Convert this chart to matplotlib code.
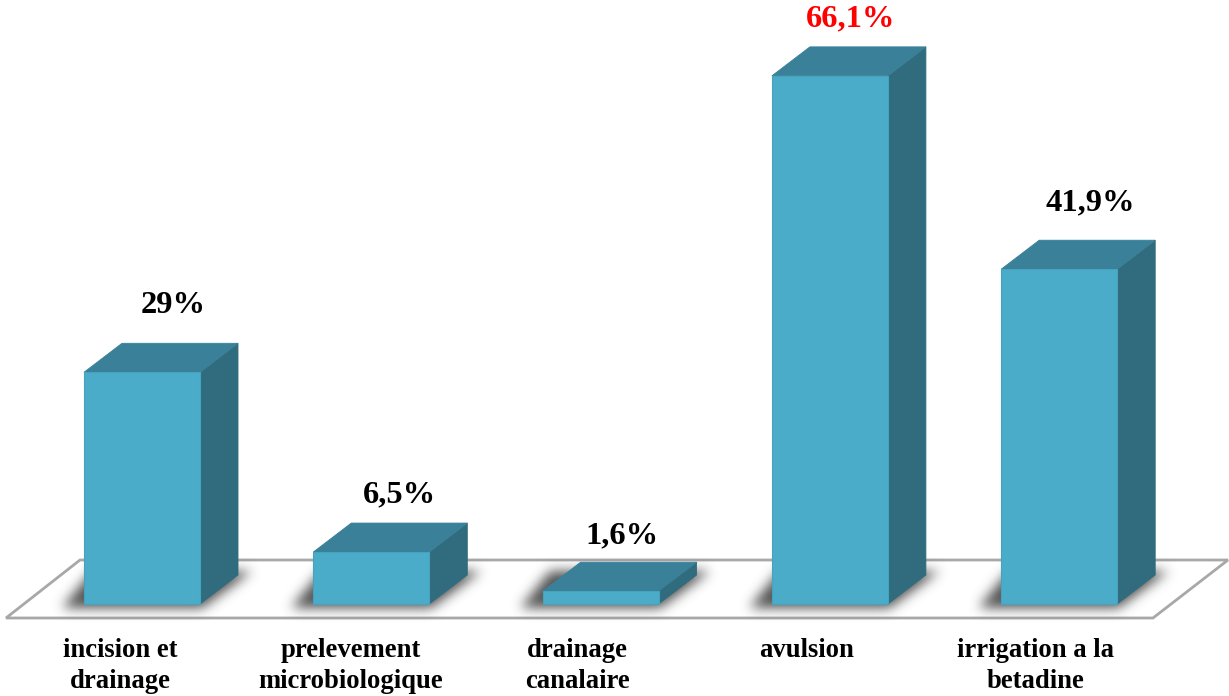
import matplotlib
matplotlib.use("Agg")
import matplotlib.pyplot as plt
from matplotlib.patches import Polygon
from matplotlib.path import Path
import numpy as np

categories = ["incision et\ndrainage", "prelevement\nmicrobiologique", "drainage\ncanalaire",
              "avulsion", "irrigation a la\nbetadine"]
values = [29.0, 6.5, 1.6, 66.1, 41.9]
value_labels = ["29%", "6,5%", "1,6%", "66,1%", "41,9%"]
label_colors = ["black", "black", "black", "red", "black"]

# Label placement relative to each bar, in pixels
label_dx = [31, 28, 21, 21, 31]
label_dy = [67, 57, 55, 57, 66]
cat_dx = [-22, -21, -23, -23, -24]

W, H = 1229, 696
FACE, TOP, SIDE = "#4aacc8", "#398098", "#306c7e"
FLOOR_EDGE = "#a8a8a8"

fig = plt.figure(figsize=(W / 100, H / 100), dpi=100)
ax = fig.add_axes([0, 0, 1, 1])

# Scales: 229.3 px per category, 7.99 px per percentage point, baseline at y=604 px
PX_X, PX_Y = 229.3, 7.99
X0, Y0 = 142.0, 604.0
xlim = (-X0 / PX_X, (W - X0) / PX_X)
ylim = (-(H - Y0) / PX_Y, Y0 / PX_Y)
ax.set_xlim(*xlim)
ax.set_ylim(*ylim)
ax.axis("off")

bar_w = 116 / PX_X
dep_x, dep_y = 38 / PX_X, 29 / PX_Y


def px(dx, dy):
    """Convert a pixel offset (y pointing up) to data units."""
    return dx / PX_X, dy / PX_Y


def gaussian_blur(img, sigma):
    """Separable Gaussian blur of a 2-D array."""
    r = int(3 * sigma)
    k = np.exp(-0.5 * (np.arange(-r, r + 1) / sigma) ** 2)
    k /= k.sum()
    img = np.apply_along_axis(lambda a: np.convolve(a, k, mode="same"), 0, img)
    return np.apply_along_axis(lambda a: np.convolve(a, k, mode="same"), 1, img)


# Floor plane
fl = [px(6 - X0, Y0 - 618), px(1153 - X0, Y0 - 618), px(1228 - X0, Y0 - 560), px(80 - X0, Y0 - 560)]
ax.add_patch(Polygon(fl, closed=True, facecolor="white", edgecolor=FLOOR_EDGE, lw=2.0,
                     joinstyle="miter", zorder=1))

# Soft shadows on the floor, rasterised on a pixel grid and blurred
xs = np.linspace(xlim[0], xlim[1], W)
ys = np.linspace(ylim[0], ylim[1], H)
XX, YY = np.meshgrid(xs, ys)
grid = np.column_stack([XX.ravel(), YY.ravel()])
mask = np.zeros((H, W))
for i, v in enumerate(values):
    l = i - bar_w / 2
    r = i + bar_w / 2
    a = px(-22, -4)
    b = px(2, -4)
    c = px(52, 33)
    d = px(8, 33)
    shadow = Path([(l + a[0], a[1]), (r + b[0], b[1]), (r + c[0], c[1]), (l + d[0], d[1])])
    mask = np.maximum(mask, shadow.contains_points(grid).reshape(H, W).astype(float))
mask = gaussian_blur(mask, 6.0)
rgba = np.zeros((H, W, 4))
rgba[..., :3] = 0.28
rgba[..., 3] = np.clip(mask * 0.95, 0, 1)
ax.imshow(rgba, extent=(*xlim, *ylim), origin="lower", aspect="auto", zorder=2,
          interpolation="bilinear")
ax.set_xlim(*xlim)
ax.set_ylim(*ylim)

# Extruded bars: side, top, then the front face
for i, v in enumerate(values):
    l = i - bar_w / 2
    r = i + bar_w / 2
    ax.add_patch(Polygon([(r, 0), (r + dep_x, dep_y), (r + dep_x, v + dep_y), (r, v)],
                         closed=True, facecolor=SIDE, edgecolor=SIDE, lw=0.6, zorder=4))
    ax.add_patch(Polygon([(l, v), (r, v), (r + dep_x, v + dep_y), (l + dep_x, v + dep_y)],
                         closed=True, facecolor=TOP, edgecolor=TOP, lw=0.6, zorder=4))
    ax.bar(i, v, width=bar_w, bottom=0, color=FACE, edgecolor="#45a3bd", lw=0.8, zorder=5)

serif = "Liberation Serif"
for i, v in enumerate(values):
    dx, dy = px(label_dx[i], label_dy[i])
    ax.text(i + dx, v + dy, value_labels[i], color=label_colors[i], family=serif, weight="bold",
            fontsize=23.4, ha="center", va="center", zorder=6)
    cx, _ = px(cat_dx[i], 0)
    ax.text(i + cx, -(638 - Y0) / PX_Y, categories[i], family=serif, weight="bold",
            fontsize=19.2, ha="center", va="top", linespacing=1.3, color="black", zorder=6)

fig.savefig("out.png", dpi=100)
